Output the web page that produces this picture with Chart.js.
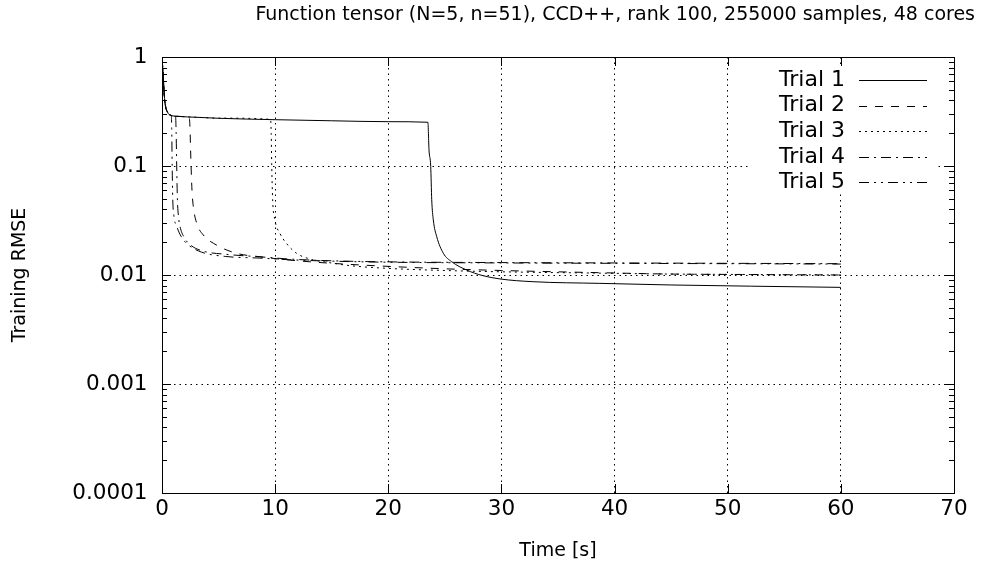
<!DOCTYPE html>
<html>
<head>
<meta charset="utf-8">
<script src="https://cdn.jsdelivr.net/npm/chart.js@4/dist/chart.umd.min.js"></script>
<style>
html,body{margin:0;padding:0;background:#fff;}
#wrap{width:981px;height:574px;}
</style>
</head>
<body>
<div id="wrap"><canvas id="c" width="981" height="574"></canvas></div>
<script>
// ---- data ----
const chartTitle = 'Function tensor (N=5, n=51), CCD++, rank 100, 255000 samples, 48 cores';
const seriesLabels = ['Trial 1', 'Trial 2', 'Trial 3', 'Trial 4', 'Trial 5'];
const xTicks = [0, 10, 20, 30, 40, 50, 60, 70];
const yTickValues = [0.0001, 0.001, 0.01, 0.1, 1];
const yTickLabels = ['0.0001', '0.001', '0.01', '0.1', '1'];

const t1 = [0, 0.1, 0.2, 0.3, 0.5, 0.7, 1.5, 3, 5, 10, 15, 20, 23.5, 23.6, 23.75, 23.84, 23.98, 24.28, 24.87, 25.6, 26.93, 28.3, 29.87, 32.8, 38.7, 45, 52, 60];
const v1 = [1.0, 0.7, 0.45, 0.36, 0.31, 0.294, 0.285, 0.28, 0.274, 0.266, 0.26, 0.255, 0.252, 0.14, 0.099, 0.049, 0.032, 0.0225, 0.0158, 0.01325, 0.0111, 0.0099, 0.0092, 0.00868, 0.00838, 0.0081, 0.0079, 0.0077];

const t2 = [0, 0.1, 0.2, 0.3, 0.5, 0.7, 1.5, 2.4, 2.47, 2.52, 2.57, 2.65, 2.77, 3.07, 3.65, 4.83, 6.6, 8.66, 11.3, 15, 20, 25, 30, 38.7, 45, 52, 60];
const v2 = [1.0, 0.7, 0.45, 0.36, 0.31, 0.294, 0.285, 0.278, 0.23, 0.15, 0.1, 0.06, 0.0423, 0.0298, 0.0233, 0.0188, 0.0158, 0.0147, 0.0137, 0.0128, 0.012, 0.0114, 0.011, 0.0105, 0.0102, 0.0101, 0.0100];

const t3 = [0, 0.1, 0.2, 0.3, 0.5, 0.7, 1.5, 3, 5, 9.6, 9.65, 9.7, 9.78, 9.98, 10.43, 11.0, 11.9, 13.1, 14.56, 16.6, 20, 25, 30, 38.7, 45, 52, 60];
const v3 = [1.0, 0.7, 0.45, 0.36, 0.31, 0.294, 0.285, 0.28, 0.275, 0.268, 0.2, 0.1, 0.049, 0.032, 0.024, 0.0195, 0.0158, 0.014, 0.0131, 0.0122, 0.0115, 0.011, 0.0107, 0.0104, 0.0102, 0.0101, 0.0100];

const t4 = [0, 0.1, 0.2, 0.3, 0.5, 0.7, 1.0, 1.2, 1.25, 1.3, 1.36, 1.45, 1.6, 2.0, 2.5, 3.6, 5.6, 8.6, 11.3, 15, 20, 30, 40, 50, 60];
const v4 = [1.0, 0.7, 0.45, 0.36, 0.31, 0.294, 0.29, 0.285, 0.2, 0.1, 0.05, 0.035, 0.0277, 0.0218, 0.0189, 0.0166, 0.0155, 0.0147, 0.014, 0.0135, 0.0132, 0.013, 0.0129, 0.0128, 0.0127];

const t5 = [0, 0.1, 0.2, 0.3, 0.5, 0.7, 0.82, 0.86, 0.9, 0.95, 1.05, 1.3, 1.7, 2.3, 3.5, 5.6, 8.6, 11.3, 15, 20, 30, 40, 50, 60];
const v5 = [1.0, 0.7, 0.45, 0.36, 0.31, 0.294, 0.29, 0.22, 0.1, 0.05, 0.035, 0.028, 0.0225, 0.019, 0.0162, 0.0148, 0.0143, 0.0138, 0.0134, 0.0131, 0.0129, 0.0128, 0.0127, 0.0126];

const times = [t1, t2, t3, t4, t5];
const values = [v1, v2, v3, v4, v5];
const dashes = [[], [8, 8], [2, 4], [10, 5, 2, 5], [10, 5, 2, 5, 2, 5]];

// ---- chart ----
const FONT = 'DejaVu Sans';
const TICK_SIZE = 21.5;
const LEGEND_SIZE = 22;
const LABEL_SIZE = 19;
Chart.defaults.font.family = FONT;
Chart.defaults.font.size = 19;
Chart.defaults.color = '#000';

const datasets = seriesLabels.map((lab, i) => ({
  label: lab,
  data: times[i].map((t, j) => ({x: t, y: values[i][j]})),
  borderColor: '#000',
  backgroundColor: '#000',
  borderWidth: 1,
  borderDash: dashes[i],
  pointRadius: 0,
  fill: false,
  cubicInterpolationMode: 'monotone'
}));

const framePlugin = {
  id: 'frame',
  afterDraw(chart) {
    const ctx = chart.ctx;
    const a = chart.chartArea;
    const xs = chart.scales.x, ys = chart.scales.y;
    ctx.save();
    // legend (white box, right-aligned text, line sample on right)
    ctx.fillStyle = '#fff';
    ctx.fillRect(750, 66, 188, 128);
    ctx.font = LEGEND_SIZE + 'px "' + FONT + '"';
    ctx.textAlign = 'right';
    ctx.textBaseline = 'middle';
    chart.data.datasets.forEach((ds, i) => {
      const y = 80 + i * 25.6;
      ctx.fillStyle = '#000';
      ctx.fillText(ds.label, 845, y);
      ctx.beginPath();
      ctx.setLineDash(ds.borderDash);
      ctx.lineWidth = 1;
      ctx.strokeStyle = '#000';
      ctx.moveTo(859, Math.round(y) + 0.5);
      ctx.lineTo(927, Math.round(y) + 0.5);
      ctx.stroke();
    });
    ctx.setLineDash([]);
    // inward ticks
    ctx.strokeStyle = '#000';
    ctx.lineWidth = 1;
    ctx.beginPath();
    xTicks.forEach(v => {
      const px = Math.round(xs.getPixelForValue(v)) + 0.5;
      ctx.moveTo(px, a.bottom); ctx.lineTo(px, a.bottom - 9);
      ctx.moveTo(px, a.top); ctx.lineTo(px, a.top + 9);
    });
    for (let e = -4; e <= 0; e++) {
      for (let m = 1; m <= 9; m++) {
        const v = m * Math.pow(10, e);
        if (v > 1.0000001) continue;
        const py = Math.round(ys.getPixelForValue(v)) + 0.5;
        const len = m === 1 ? 9 : 5;
        ctx.moveTo(a.left, py); ctx.lineTo(a.left + len, py);
        ctx.moveTo(a.right, py); ctx.lineTo(a.right - len, py);
      }
    }
    ctx.stroke();
    // frame
    ctx.strokeRect(Math.round(a.left) + 0.5, Math.round(a.top) + 0.5, Math.round(a.right - a.left), Math.round(a.bottom - a.top));
    ctx.restore();
  }
};

new Chart(document.getElementById('c'), {
  type: 'line',
  data: { datasets },
  options: {
    responsive: false,
    devicePixelRatio: 1,
    animation: false,
    layout: { padding: { left: 0, right: 6, top: 0, bottom: 0 } },
    plugins: {
      legend: { display: false },
      tooltip: { enabled: false },
      title: {
        display: true,
        text: chartTitle,
        align: 'end',
        color: '#000',
        font: { size: 19, weight: 'normal', family: FONT },
        padding: { top: 3.6, bottom: 30.6 }
      }
    },
    scales: {
      x: {
        type: 'linear',
        min: 0, max: 70,
        afterBuildTicks: s => { s.ticks = xTicks.map(v => ({value: v})); },
        ticks: { padding: 4, color: '#000', font: { size: TICK_SIZE }, maxRotation: 0, autoSkip: false },
        grid: { color: '#000', lineWidth: 1, drawTicks: false },
        border: { display: true, color: '#000', width: 1, dash: [1.5, 4] },
        title: { display: true, text: 'Time [s]', color: '#000', font: { size: LABEL_SIZE }, padding: { top: 0, bottom: 11.6 } },
        afterFit: s => { s.height = 81; }
      },
      y: {
        type: 'logarithmic',
        min: 0.0001, max: 1,
        afterBuildTicks: s => { s.ticks = yTickValues.map(v => ({value: v})); },
        ticks: {
          padding: 14.5, color: '#000', font: { size: TICK_SIZE }, autoSkip: false,
          callback: (v) => { const k = yTickValues.findIndex(t => Math.abs(t - v) / t < 1e-6); return k >= 0 ? yTickLabels[k] : ''; }
        },
        grid: { color: '#000', lineWidth: 1, drawTicks: false },
        border: { display: true, color: '#000', width: 1, dash: [1.5, 4] },
        title: { display: true, text: 'Training RMSE', color: '#000', font: { size: LABEL_SIZE }, padding: { top: 9, bottom: 0 } },
        afterFit: s => { s.width = 162; }
      },
      y2: {
        type: 'linear',
        position: 'right',
        display: true,
        ticks: { display: false },
        grid: { drawOnChartArea: false, drawTicks: false },
        border: { display: true, color: '#000', width: 1 },
        afterFit: s => { s.width = 21; }
      }
    }
  },
  plugins: [framePlugin]
});
</script>
</body>
</html>
